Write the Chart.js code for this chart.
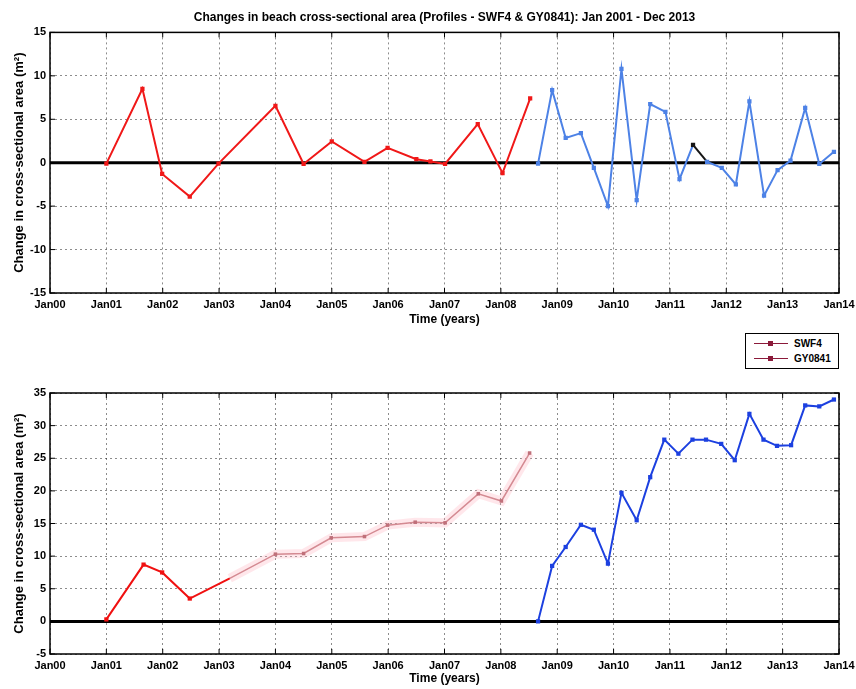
<!DOCTYPE html>
<html>
<head>
<meta charset="utf-8">
<script src="https://cdn.jsdelivr.net/npm/chart.js@4.4.0/dist/chart.umd.min.js"></script>
<style>
  body { margin:0; background:#fff; width:856px; height:689px; position:relative; overflow:hidden; font-family:"Liberation Sans", Arial, sans-serif; }
  #top { position:absolute; left:0; top:0; }
  #bottom { position:absolute; left:0; top:350px; }
  .legend { position:absolute; left:745px; top:333px; width:92px; height:34px; border:1px solid #000; background:#fff; font-weight:bold; font-size:10px; z-index:2; }
  .row { position:absolute; left:0; width:92px; height:14px; }
  .row .ln { position:absolute; left:8px; top:6px; width:34px; border-top:1px solid #8b1a3a; }
  .row .mk { position:absolute; left:22px; top:4px; width:5px; height:5px; background:#8b1a3a; }
  .row span { position:absolute; left:48px; top:1px; }
</style>
</head>
<body>
<canvas id="top" width="856" height="330"></canvas>
<canvas id="bottom" width="856" height="339"></canvas>
<div class="legend">
  <div class="row" style="top:3px"><div class="ln"></div><div class="mk"></div><span>SWF4</span></div>
  <div class="row" style="top:18px"><div class="ln"></div><div class="mk"></div><span>GY0841</span></div>
</div>
<script>
// x values are years after Jan 2000
const xTicks = [0, 1, 2, 3, 4, 5, 6, 7, 8, 9, 10, 11, 12, 13, 14];

// top panel: change between surveys
const topRedYears = [1.0, 1.64, 1.99, 2.48, 2.99, 4.0, 4.5, 5.0, 5.58, 5.99, 6.5, 6.75, 7.01, 7.59, 8.03, 8.52];
const topRedValues = [-0.1, 8.5, -1.3, -3.9, -0.1, 6.55, -0.15, 2.45, 0.1, 1.7, 0.4, 0.15, -0.15, 4.45, -1.2, 7.4];
const topBlueYears = [8.66, 8.91, 9.15, 9.42, 9.65, 9.9, 10.14, 10.41, 10.65, 10.92, 11.17, 11.41, 11.66, 11.92, 12.17, 12.41, 12.67, 12.91, 13.14, 13.4, 13.65, 13.91];
const topBlueValues = [-0.1, 8.35, 2.85, 3.4, -0.6, -5.0, 10.8, -4.3, 6.75, 5.85, -1.9, 2.05, 0.1, -0.6, -2.5, 7.05, -3.8, -0.85, 0.25, 6.3, -0.15, 1.25];
const topBlackSegments = [11];
const topYTicks = [-15, 15];

// bottom panel: cumulative change
const botRedYears = [1.0, 1.66, 1.99, 2.48, 3.19];
const botRedValues = [0.3, 8.7, 7.5, 3.5, 6.6];
const botPinkYears = [3.19, 4.0, 4.5, 4.99, 5.58, 5.99, 6.48, 7.01, 7.6, 8.01, 8.51];
const botPinkValues = [6.6, 10.3, 10.4, 12.8, 13.0, 14.75, 15.2, 15.1, 19.55, 18.45, 25.8];
const botBlueYears = [8.66, 8.91, 9.15, 9.42, 9.65, 9.9, 10.14, 10.41, 10.65, 10.9, 11.15, 11.4, 11.64, 11.91, 12.15, 12.41, 12.66, 12.9, 13.15, 13.4, 13.65, 13.91];
const botBlueValues = [0, 8.5, 11.4, 14.8, 14.05, 8.85, 19.7, 15.5, 22.1, 27.85, 25.7, 27.85, 27.85, 27.2, 24.7, 31.8, 27.85, 26.9, 27.0, 33.1, 32.95, 34.0];
const botYTicks = [-5, 35];

const pts = (xs, ys) => xs.map((x, i) => ({ x: x, y: ys[i] }));
const FONT = "'Liberation Sans', Arial, sans-serif";

// MATLAB-like box, inward ticks and the thick zero line
const framePlugin = {
  id: 'frame',
  beforeDatasetsDraw(chart) {
    const { ctx, chartArea: a, scales: { y } } = chart;
    const y0 = y.getPixelForValue(0);
    ctx.save();
    ctx.strokeStyle = '#000';
    ctx.lineWidth = 3;
    ctx.beginPath(); ctx.moveTo(a.left, y0); ctx.lineTo(a.right, y0); ctx.stroke();
    ctx.restore();
  },
  afterDraw(chart) {
    const { ctx, chartArea: a, scales: { x, y } } = chart;
    ctx.save();
    ctx.strokeStyle = '#000';
    ctx.lineWidth = 1.5;
    ctx.strokeRect(a.left, a.top, a.right - a.left, a.bottom - a.top);
    ctx.lineWidth = 1;
    ctx.beginPath();
    x.ticks.forEach(t => {
      const px = x.getPixelForValue(t.value);
      ctx.moveTo(px, a.bottom); ctx.lineTo(px, a.bottom - 5);
      ctx.moveTo(px, a.top); ctx.lineTo(px, a.top + 5);
    });
    y.ticks.forEach(t => {
      const py = y.getPixelForValue(t.value);
      ctx.moveTo(a.left, py); ctx.lineTo(a.left + 5, py);
      ctx.moveTo(a.right, py); ctx.lineTo(a.right - 5, py);
    });
    ctx.stroke();
    ctx.restore();
  }
};

function scales(yr, xHeight) {
  return {
    x: {
      type: 'linear', min: xTicks[0], max: xTicks[xTicks.length - 1],
      afterFit: s => { s.height = xHeight; s.paddingLeft = 0; s.paddingRight = 0; },
      afterBuildTicks: s => { s.ticks = xTicks.map(v => ({ value: v })); },
      grid: { color: 'rgba(0,0,0,0.45)', drawTicks: false },
      border: { display: false, dash: [2, 3] },
      ticks: { color: '#000', padding: 5, maxRotation: 0, autoSkip: false,
        font: { family: FONT, size: 11, weight: 'bold' },
        callback: v => 'Jan' + String(v).padStart(2, '0') },
      title: { display: true, text: 'Time (years)', color: '#000', padding: { top: 0, bottom: 3 },
        font: { family: FONT, size: 12, weight: 'bold' } }
    },
    y: {
      min: yr[0], max: yr[1],
      afterFit: s => { s.width = 50; },
      grid: { color: 'rgba(0,0,0,0.45)', drawTicks: false },
      border: { display: false, dash: [2, 3] },
      ticks: { color: '#000', stepSize: 5, padding: 4,
        font: { family: FONT, size: 11, weight: 'bold' } },
      title: { display: true, text: 'Change in cross-sectional area (m²)', color: '#000',
        padding: { top: 12, bottom: 0 }, font: { family: FONT, size: 13, weight: 'bold' } }
    }
  };
}

const line = (data, color, extra) => Object.assign({
  data: data, borderColor: color, backgroundColor: color, borderWidth: 2,
  pointRadius: 3, pointStyle: 'rect', pointBorderWidth: 0, tension: 0
}, extra || {});

new Chart(document.getElementById('top'), {
  type: 'line',
  data: {
    datasets: [
      line(pts(topRedYears, topRedValues), '#f01818'),
      line(pts(topBlueYears, topBlueValues), '#4d82e6', {
        segment: { borderColor: c => topBlackSegments.includes(c.p0DataIndex) ? '#151515' : undefined },
        pointBackgroundColor: topBlueValues.map((v, i) => topBlackSegments.includes(i) ? '#151515' : '#4d82e6')
      })
    ]
  },
  options: {
    responsive: false, animation: false, devicePixelRatio: 1,
    layout: { padding: { left: 0, right: 17, top: 0, bottom: 0 } },
    plugins: {
      legend: { display: false }, tooltip: { enabled: false },
      title: { display: true, fullSize: false, color: '#000',
        text: 'Changes in beach cross-sectional area (Profiles - SWF4 & GY0841): Jan 2001 - Dec 2013',
        padding: { top: 10, bottom: 8 }, font: { family: FONT, size: 12, weight: 'bold' } }
    },
    scales: scales(topYTicks, 37)
  },
  plugins: [framePlugin]
});

new Chart(document.getElementById('bottom'), {
  type: 'line',
  data: {
    datasets: [
      line(pts(botRedYears, botRedValues), '#f01010', {
        pointRadius: botRedValues.map((v, i) => i === botRedValues.length - 1 ? 0 : 3)
      }),
      line(pts(botPinkYears, botPinkValues), '#d48a92', {
        borderWidth: 1.5, pointBackgroundColor: '#c0707a',
        pointRadius: botPinkValues.map((v, i) => i === 0 ? 0 : 2.5)
      }),
      line(pts(botPinkYears, botPinkValues), 'rgba(255,175,190,0.3)', {
        borderWidth: 9, pointRadius: 0, order: 10
      }),
      line(pts(botBlueYears, botBlueValues), '#1c40e0')
    ]
  },
  options: {
    responsive: false, animation: false, devicePixelRatio: 1,
    layout: { padding: { left: 0, right: 17, top: 43, bottom: 0 } },
    plugins: { legend: { display: false }, tooltip: { enabled: false } },
    scales: scales(botYTicks, 35)
  },
  plugins: [framePlugin]
});
</script>
</body>
</html>
